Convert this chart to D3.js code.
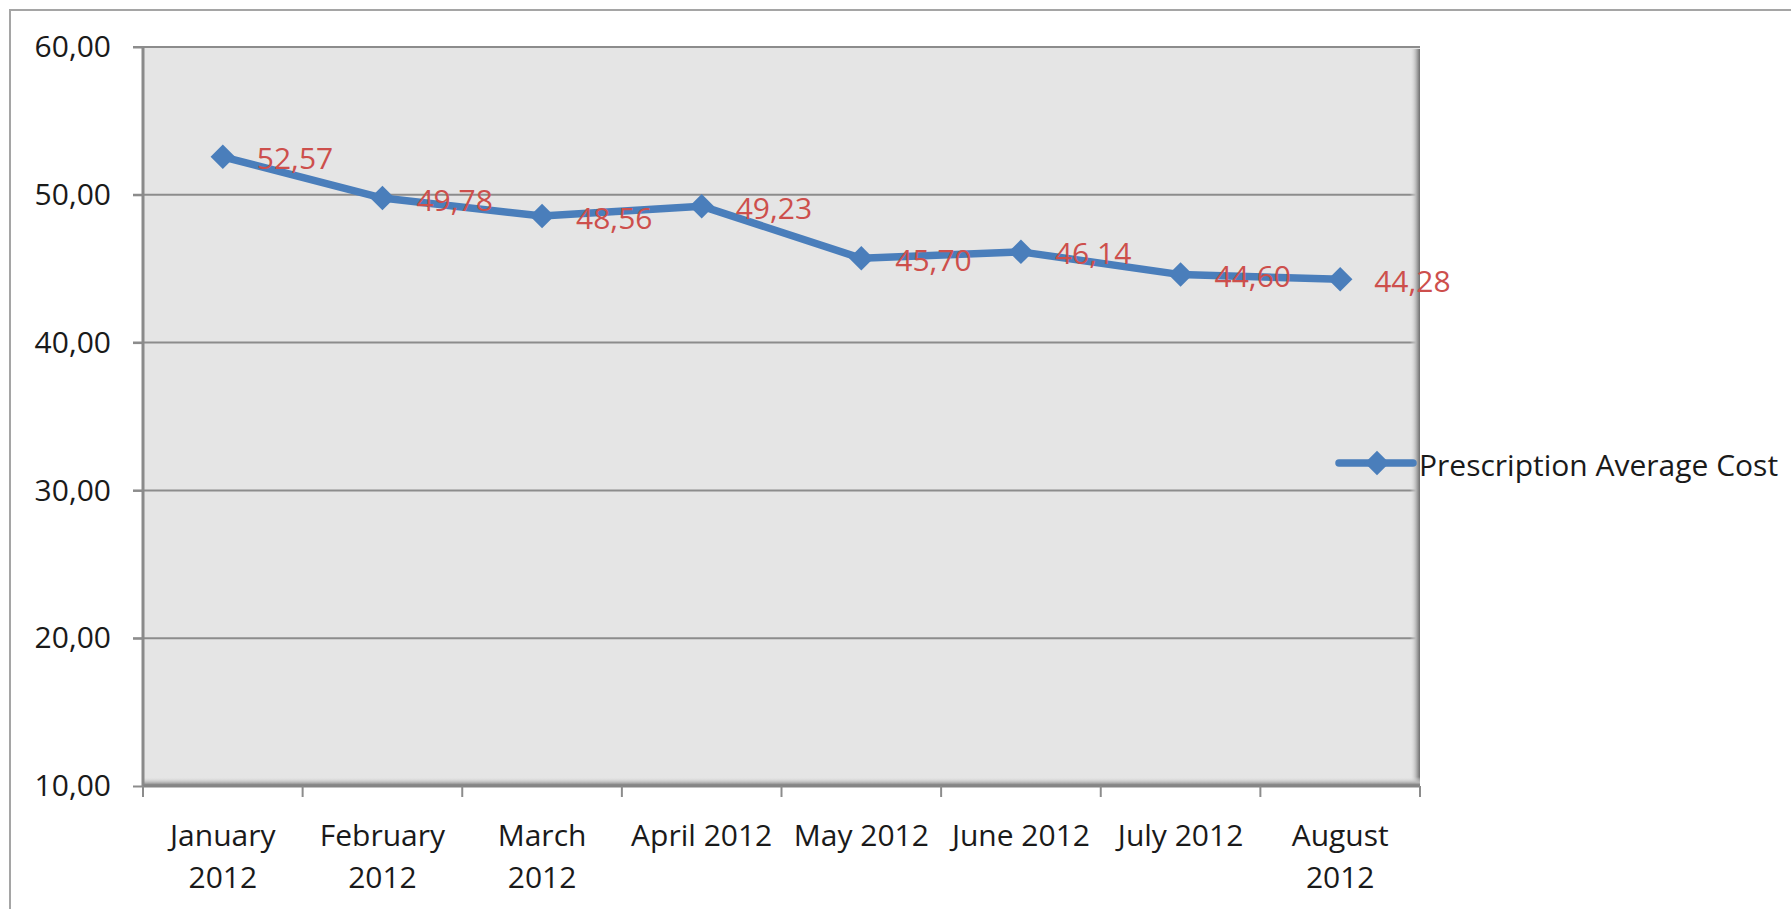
<!DOCTYPE html>
<html>
<head>
<meta charset="utf-8">
<script src="https://cdn.jsdelivr.net/npm/d3@7"></script>
<style>
  html, body { margin: 0; padding: 0; background: #fff; }
  svg { display: block; }
</style>
</head>
<body>
<svg id="chart" width="1791" height="909"></svg>
<script>
const categories = ["January 2012", "February 2012", "March 2012", "April 2012",
                    "May 2012", "June 2012", "July 2012", "August 2012"];
const seriesName = "Prescription Average Cost";
const values = [52.57, 49.78, 48.56, 49.23, 45.70, 46.14, 44.60, 44.28];
const yTicks = [10, 20, 30, 40, 50, 60];
const yDomain = [10, 60];

const FONT = "'Open Sans', 'Noto Sans', sans-serif";
const lineColor = "#4a7ebb";
const labelColor = "#cd4f4c";

const svg = d3.select("#chart");
const plot = { left: 143, top: 47, right: 1420, bottom: 786 };

const x = d3.scaleBand().domain(categories).range([plot.left, plot.right]).paddingInner(0).paddingOuter(0);
const y = d3.scaleLinear().domain(yDomain).range([plot.bottom, plot.top]);
const fmt = v => d3.format(".2f")(v).replace(".", ",");

// outer chart border (cropped on right/bottom)
svg.append("rect").attr("x", 10).attr("y", 10).attr("width", 1820).attr("height", 940)
  .attr("fill", "#fff").attr("stroke", "#a5a5a5").attr("stroke-width", 2);

const defs = svg.append("defs");
const gR = defs.append("linearGradient").attr("id", "shR").attr("x1", "0").attr("x2", "1").attr("y1", "0").attr("y2", "0");
gR.append("stop").attr("offset", "0%").attr("stop-color", "#e5e5e5").attr("stop-opacity", 0);
gR.append("stop").attr("offset", "60%").attr("stop-color", "#b8b8b8").attr("stop-opacity", 1);
gR.append("stop").attr("offset", "100%").attr("stop-color", "#6e6e6e").attr("stop-opacity", 1);
const gB = defs.append("linearGradient").attr("id", "shB").attr("x1", "0").attr("x2", "0").attr("y1", "0").attr("y2", "1");
gB.append("stop").attr("offset", "0%").attr("stop-color", "#e5e5e5").attr("stop-opacity", 0);
gB.append("stop").attr("offset", "60%").attr("stop-color", "#b8b8b8").attr("stop-opacity", 1);
gB.append("stop").attr("offset", "100%").attr("stop-color", "#6e6e6e").attr("stop-opacity", 1);

// plot area
svg.append("rect").attr("x", plot.left).attr("y", plot.top)
  .attr("width", plot.right - plot.left).attr("height", plot.bottom - plot.top)
  .attr("fill", "#e5e5e5");

// gridlines
svg.append("g").selectAll("line").data(yTicks.filter(t => t > yDomain[0])).join("line")
  .attr("x1", plot.left - 10).attr("x2", plot.right)
  .attr("y1", d => y(d)).attr("y2", d => y(d))
  .attr("stroke", "#8c8c8c").attr("stroke-width", 2);

// inner shadows right and bottom
svg.append("rect").attr("x", plot.right - 10).attr("y", plot.top + 2).attr("width", 10)
  .attr("height", plot.bottom - plot.top - 2).attr("fill", "url(#shR)");
svg.append("rect").attr("x", plot.left).attr("y", plot.bottom - 9).attr("width", plot.right - plot.left)
  .attr("height", 9).attr("fill", "url(#shB)");

// y axis
const yAxis = d3.axisLeft(y).tickValues(yTicks).tickSize(10).tickPadding(22).tickFormat(fmt);
const gy = svg.append("g").attr("transform", `translate(${plot.left},0)`).call(yAxis);
gy.select(".domain").attr("stroke", "#8a8a8a").attr("stroke-width", 3).attr("d", `M0,${plot.top}V${plot.bottom + 1}`);
gy.selectAll(".tick line").attr("stroke", "#8c8c8c").attr("stroke-width", 2);
gy.selectAll(".tick text").attr("font-family", FONT).attr("font-size", 30).attr("fill", "#1a1a1a");

// x axis line and ticks at band boundaries
svg.append("line").attr("x1", plot.left).attr("x2", plot.right)
  .attr("y1", plot.bottom).attr("y2", plot.bottom)
  .attr("stroke", "#858585").attr("stroke-width", 3);
const bounds = categories.map(c => x(c)).concat([x.range()[1]]);
svg.append("g").selectAll("line").data(bounds).join("line")
  .attr("x1", d => d).attr("x2", d => d)
  .attr("y1", plot.bottom).attr("y2", plot.bottom + 11)
  .attr("stroke", "#8c8c8c").attr("stroke-width", 2);

// x labels (wrap when wider than band)
const xl = svg.append("g").attr("font-family", FONT).attr("font-size", 30).attr("fill", "#1a1a1a");
categories.forEach(c => {
  const cx = x(c) + x.bandwidth() / 2;
  const t = xl.append("text").attr("x", cx).attr("y", 834).attr("text-anchor", "middle")
    .attr("dominant-baseline", "central").text(c);
  if (t.node().getComputedTextLength() > x.bandwidth() - 4) {
    t.text(null);
    c.split(" ").forEach((w, i) => {
      t.append("tspan").attr("x", cx).attr("y", 834 + i * 42).text(w);
    });
  }
});

// line
const pts = categories.map((c, i) => [x(c) + x.bandwidth() / 2, y(values[i])]);
svg.append("path").datum(pts)
  .attr("d", d3.line())
  .attr("fill", "none").attr("stroke", lineColor).attr("stroke-width", 7.5)
  .attr("stroke-linejoin", "round").attr("stroke-linecap", "round");

const diamond = d3.symbol().type(d3.symbolSquare).size(300);
svg.append("g").selectAll("path").data(pts).join("path")
  .attr("d", diamond)
  .attr("transform", d => `translate(${d[0]},${d[1]}) rotate(45)`)
  .attr("fill", lineColor);

// data labels
svg.append("g").selectAll("text").data(pts).join("text")
  .attr("x", d => d[0] + 34).attr("y", d => d[1] + 1)
  .attr("dominant-baseline", "central")
  .attr("font-family", FONT).attr("font-size", 30).attr("fill", labelColor)
  .text((d, i) => fmt(values[i]));

// legend
const lg = svg.append("g").attr("transform", "translate(1339,463)");
lg.append("line").attr("x1", 0).attr("x2", 74).attr("y1", 0).attr("y2", 0)
  .attr("stroke", lineColor).attr("stroke-width", 7.5).attr("stroke-linecap", "round");
lg.append("path").attr("d", diamond).attr("transform", "translate(38,0) rotate(45)").attr("fill", lineColor);
lg.append("text").attr("x", 80).attr("y", 1).attr("dominant-baseline", "central")
  .attr("font-family", FONT).attr("font-size", 30).attr("fill", "#1a1a1a").text(seriesName);
</script>
</body>
</html>
